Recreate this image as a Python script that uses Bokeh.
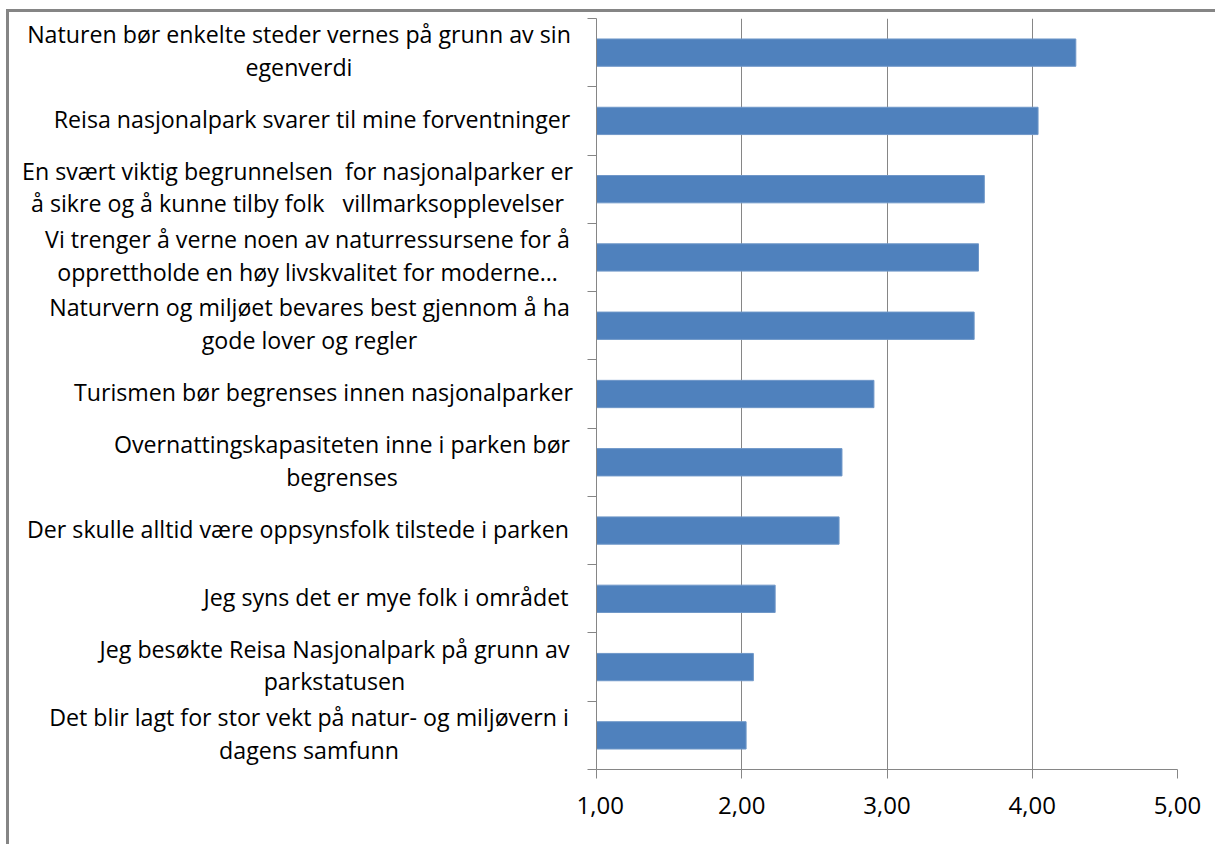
from bokeh.plotting import figure
from bokeh.layouts import row
from bokeh.models import ColumnDataSource, FixedTicker, Range1d
from bokeh.core.properties import value
from bokeh.embed import file_html
from bokeh.resources import INLINE

NB = "\u00a0"
categories = [
    "Naturen bør enkelte steder vernes på grunn av sin\negenverdi",
    "Reisa nasjonalpark svarer til mine forventninger",
    "En svært viktig begrunnelsen " + NB + "for nasjonalparker er\nå sikre og å kunne tilby folk " + NB + " villmarksopplevelser",
    "Vi trenger å verne noen av naturressursene for å\nopprettholde en høy livskvalitet for moderne\u2026",
    "Naturvern og miljøet bevares best gjennom å ha\ngode lover og regler",
    "Turismen bør begrenses innen nasjonalparker",
    "Overnattingskapasiteten inne i parken bør\nbegrenses",
    "Der skulle alltid være oppsynsfolk tilstede i parken",
    "Jeg syns det er mye folk i området",
    "Jeg besøkte Reisa Nasjonalpark på grunn av\nparkstatusen",
    "Det blir lagt for stor vekt på natur- og miljøvern i\ndagens samfunn",
]
values = [4.30, 4.04, 3.67, 3.63, 3.60, 2.91, 2.69, 2.67, 2.23, 2.08, 2.03]
x_ticks = [1, 2, 3, 4, 5]
x_tick_labels = ["1,00", "2,00", "3,00", "4,00", "5,00"]

# page-x centre of each label block (layout, not data)
label_centers = [298.5, 311.5, 297, 307, 309, 323, 341.5, 297.5, 385.5, 334, 308.5]

n = len(categories)
ypos = [n - 1 - i for i in range(n)]

FONT = "Open Sans"
FS = "23.2px"
TFS = "24px"
GRAY = "#868686"
BORDER = 3
ML, MT = 6, 9
CX, CY = ML + BORDER, MT + BORDER
FRAME_L, FRAME_T = 596, 18
AXIS_W = 20
TOTAL_W, TOTAL_H = 1206, 832
TOP = FRAME_T - CY
BOTTOM = TOTAL_H - TOP - 751

yr = Range1d(-0.5, n - 0.5)

# left panel: category labels
left_w = FRAME_L - CX - AXIS_W
pl = figure(width=left_w, height=TOTAL_H, output_backend="svg", toolbar_location=None,
            x_range=Range1d(CX, CX + left_w), y_range=yr,
            x_axis_location=None, y_axis_location=None,
            min_border_left=0, min_border_right=0,
            min_border_top=TOP, min_border_bottom=BOTTOM)
pl.outline_line_color = None
pl.grid.visible = False
lsrc = ColumnDataSource(dict(x=label_centers, y=ypos, lab=categories))
pl.text(x="x", y="y", text="lab", source=lsrc, text_align="center",
        text_baseline="middle", text_font=value(FONT), text_font_size=value(FS),
        text_color="#000000", text_line_height=1.02, y_offset=-2)

# right panel: bars
p = figure(width=TOTAL_W - left_w, height=TOTAL_H, output_backend="svg",
           toolbar_location=None, x_range=Range1d(1, 5), y_range=yr,
           min_border_left=AXIS_W, min_border_right=TOTAL_W - left_w - AXIS_W - 581,
           min_border_top=TOP, min_border_bottom=BOTTOM)
p.outline_line_color = None

src = ColumnDataSource(dict(y=ypos, v=values))
p.hbar(y="y", right="v", left=1, height=0.4, source=src,
       fill_color="#4F81BD", line_color="#6F97C8", line_width=1)

xa = p.xaxis[0]
xa.ticker = FixedTicker(ticks=x_ticks)
xa.major_label_overrides = {t: l for t, l in zip(x_ticks, x_tick_labels)}
xa.major_label_text_font = FONT
xa.major_label_text_font_size = TFS
xa.major_label_text_color = "#000000"
xa.major_label_standoff = 18
xa.axis_line_color = GRAY
xa.major_tick_line_color = GRAY
xa.major_tick_in = 0
xa.major_tick_out = 9
xa.minor_tick_line_color = None

y_bounds = [i - 0.5 for i in range(n + 1)]
ya = p.yaxis[0]
ya.ticker = FixedTicker(ticks=y_bounds)
ya.major_label_overrides = {t: "" for t in y_bounds}
ya.major_label_standoff = 0
ya.axis_line_color = GRAY
ya.major_tick_line_color = GRAY
ya.major_tick_in = 0
ya.major_tick_out = 9
ya.minor_tick_line_color = None

p.xgrid.ticker = FixedTicker(ticks=x_ticks)
p.xgrid.grid_line_color = GRAY
p.ygrid.grid_line_color = None

layout = row(pl, p, spacing=0)
layout.styles = {"border-top": f"{BORDER}px solid #858585",
                 "border-left": f"{BORDER}px solid #858585",
                 "margin-left": f"{ML}px", "margin-top": f"{MT}px"}

open("out.html", "w").write(file_html(layout, INLINE))
